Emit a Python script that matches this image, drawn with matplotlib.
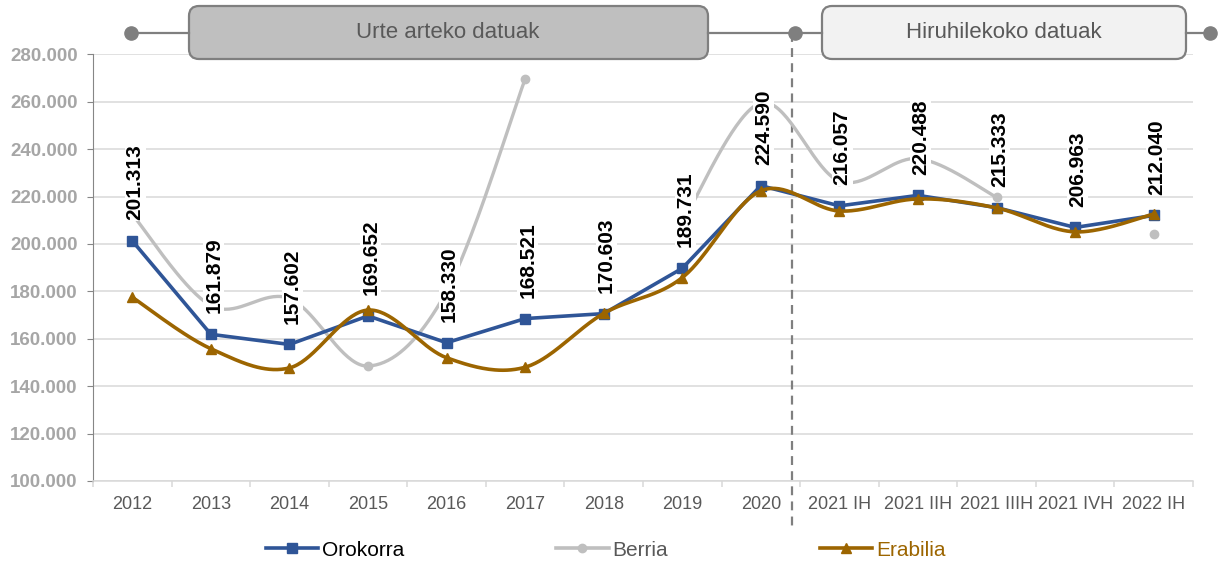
import numpy as np
import matplotlib
matplotlib.use("Agg")
import matplotlib.pyplot as plt
from matplotlib.patches import FancyBboxPatch
from matplotlib.lines import Line2D
from matplotlib.ticker import FuncFormatter, FixedLocator
import matplotlib.transforms as mtransforms

plt.rcParams['font.family'] = ['Liberation Sans', 'DejaVu Sans']

# datuak
categories = ['2012', '2013', '2014', '2015', '2016', '2017', '2018', '2019', '2020',
              '2021 IH', '2021 IIH', '2021 IIIH', '2021 IVH', '2022 IH']
orokorra = [201313, 161879, 157602, 169652, 158330, 168521, 170603, 189731, 224590,
            216057, 220488, 215333, 206963, 212040]
berria = [212500, 174000, 177000, 148500, 180000, 269600, np.nan, 209000, 259500,
          226500, 236000, 219700, np.nan, 204200]
erabilia = [177500, 155800, 147700, 172100, 152000, 148000, 170700, 185800, 222400,
            213900, 219000, 215200, 205100, 212600]
header_left = 'Urte arteko datuak'
header_right = 'Hiruhilekoko datuak'

C_BLUE = '#2F5597'
C_GRAY = '#BFBFBF'
C_BROWN = '#9C6500'


def excel_smooth(xs, ys, n=40):
    """Excel-moduko kurba leuna (Bezier, Catmull-Rom kontrol puntuekin)."""
    pts = np.column_stack([xs, ys]).astype(float)
    m = len(pts)
    if m < 2:
        return pts[:, 0], pts[:, 1]
    t = np.linspace(0, 1, n)[:, None]
    out = []
    for i in range(m - 1):
        p0 = pts[i - 1] if i > 0 else pts[i]
        p1, p2 = pts[i], pts[i + 1]
        p3 = pts[i + 2] if i + 2 < m else pts[i + 1]
        c1 = p1 + (p2 - p0) / 6.0
        c2 = p2 - (p3 - p1) / 6.0
        seg = ((1 - t) ** 3) * p1 + 3 * ((1 - t) ** 2) * t * c1 + 3 * (1 - t) * t ** 2 * c2 + t ** 3 * p2
        out.append(seg if i == 0 else seg[1:])
    out = np.vstack(out)
    return out[:, 0], out[:, 1]


def segments(xs, ys):
    xs = np.asarray(xs, float)
    ys = np.asarray(ys, float)
    segs, cur = [], []
    for x, y in zip(xs, ys):
        if np.isnan(y):
            if cur:
                segs.append(cur)
            cur = []
        else:
            cur.append((x, y))
    if cur:
        segs.append(cur)
    return segs


W, H = 1222, 565
fig = plt.figure(figsize=(W / 100, H / 100), dpi=100)
ax = fig.add_axes([93 / W, 1 - 481 / H, 1100 / W, 426.7 / H])

x = np.arange(len(categories))

# Berria (grisa, leuna, hutsuneekin)
for seg in segments(x, berria):
    sx, sy = zip(*seg)
    if len(seg) > 1:
        lx, ly = excel_smooth(sx, sy)
        ax.plot(lx, ly, color=C_GRAY, lw=2.4, zorder=2, solid_capstyle='round')
    ax.plot(sx, sy, 'o', color=C_GRAY, ms=6, zorder=2)

# Erabilia (marroia, leuna)
lx, ly = excel_smooth(x, erabilia)
ax.plot(lx, ly, color=C_BROWN, lw=2.6, zorder=5)
ax.plot(x, erabilia, '^', color=C_BROWN, ms=7, zorder=5)

# Orokorra (urdina, zuzena)
ax.plot(x, orokorra, color=C_BLUE, lw=2.6, marker='s', ms=6.5, zorder=4)

# datu etiketak
for xi, v in zip(x, orokorra):
    ax.annotate(f'{v:,}'.replace(',', '.'), (xi, v), xytext=(2, 15), textcoords='offset points',
                rotation=90, ha='center', va='bottom', fontsize=15, fontweight='bold',
                color='black', zorder=3,
                bbox=dict(boxstyle='square,pad=0.05', fc='white', ec='none'))

ax.set_xlim(-0.5, len(categories) - 0.5)
ax.set_ylim(100000, 280000)
ax.set_yticks(np.arange(100000, 280001, 20000))
ax.yaxis.set_major_formatter(FuncFormatter(lambda v, p: f'{v:,.0f}'.replace(',', '.')))
ax.grid(axis='y', color='#D9D9D9', lw=1.1, zorder=0)
ax.set_axisbelow(True)

ax.set_xticks(x)
ax.set_xticklabels(categories)
ax.xaxis.set_minor_locator(FixedLocator(np.arange(-0.5, len(categories), 1.0)))
ax.tick_params(axis='x', which='major', length=0, pad=11, labelsize=13, labelcolor='#595959')
ax.tick_params(axis='x', which='minor', length=4, color='#D9D9D9', width=1.1)
ax.tick_params(axis='y', length=4, color='#868686', pad=7, labelsize=13.5, labelcolor='#A6A6A6')
for lab in ax.get_yticklabels():
    lab.set_fontweight('bold')

for s in ['top', 'right']:
    ax.spines[s].set_visible(False)
ax.spines['left'].set_color('#868686')
ax.spines['bottom'].set_color('#D9D9D9')
ax.spines['bottom'].set_linewidth(1.1)

# marra etena (urteko / hiruhileko datuen arteko muga)
trans = mtransforms.blended_transform_factory(ax.transData, ax.transAxes)
ax.plot([8.4, 8.4], [1.05, -0.105], transform=trans, color='#7F7F7F', lw=1.6,
        ls=(0, (4, 2.8)), clip_on=False, zorder=1)

# legenda
handles = [Line2D([], [], color=C_BLUE, lw=2.6, marker='s', ms=6.5),
           Line2D([], [], color=C_GRAY, lw=2.6, marker='o', ms=6),
           Line2D([], [], color=C_BROWN, lw=2.6, marker='^', ms=7)]
leg = fig.legend(handles, ['Orokorra', 'Berria', 'Erabilia'], loc='center',
                 bbox_to_anchor=(606 / W, 1 - 550 / H), ncol=3, frameon=False,
                 fontsize=15, handlelength=2.5, handletextpad=0.2, columnspacing=7.3)
for txt, c in zip(leg.get_texts(), ['black', '#595959', C_BROWN]):
    txt.set_color(c)

# goiburuko koadroak
ov = fig.add_axes([0, 0, 1, 1], zorder=10)
ov.set_xlim(0, W)
ov.set_ylim(H, 0)
ov.axis('off')
ov.patch.set_alpha(0)

ov.plot([131, 189], [33, 33], color='#7F7F7F', lw=1.6)
ov.plot([708, 822], [33, 33], color='#7F7F7F', lw=1.6)
ov.plot([1186, 1210], [33, 33], color='#7F7F7F', lw=1.6)
ov.plot([131, 795, 1210], [33, 33, 33], 'o', color='#7F7F7F', ms=9.5)

ov.add_patch(FancyBboxPatch((189, 6), 519, 53, boxstyle='round,pad=0,rounding_size=10',
                            fc='#BFBFBF', ec='#7F7F7F', lw=1.6))
ov.add_patch(FancyBboxPatch((822, 6), 364, 53, boxstyle='round,pad=0,rounding_size=10',
                            fc='#F2F2F2', ec='#7F7F7F', lw=1.6))
ov.text(448, 33, header_left, ha='center', va='center', fontsize=16, color='#595959')
ov.text(1004, 33, header_right, ha='center', va='center', fontsize=16, color='#595959')

fig.savefig('out.png', dpi=100)
